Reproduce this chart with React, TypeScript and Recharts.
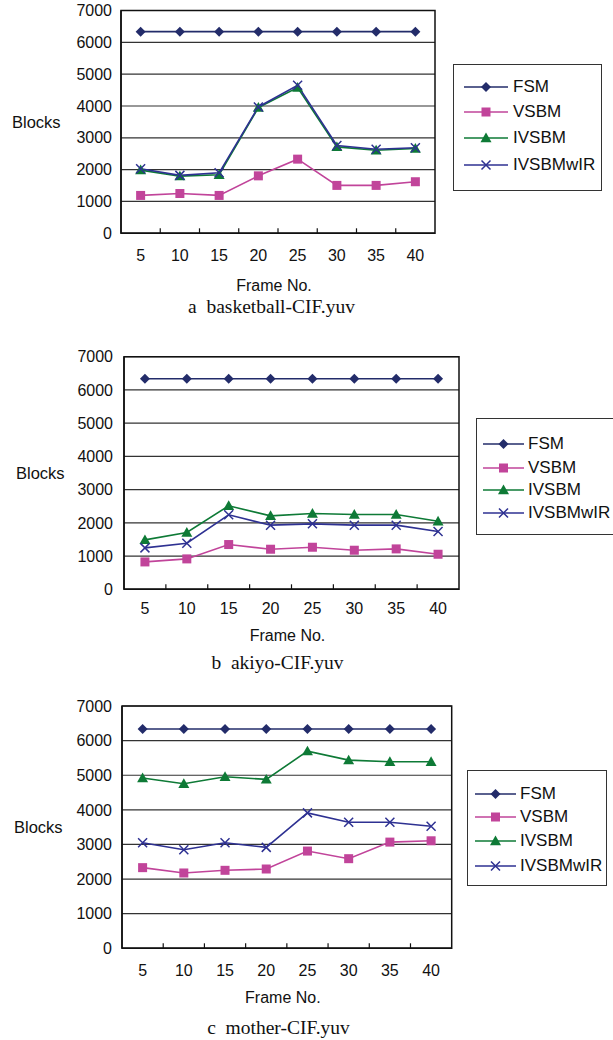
import React from 'react';
import { LineChart, Line, XAxis, YAxis, CartesianGrid, ReferenceArea, Legend } from 'recharts';

const FRAMES = [5, 10, 15, 20, 25, 30, 35, 40];
const Y_TICKS = [0, 1000, 2000, 3000, 4000, 5000, 6000, 7000];
const SERIES_KEYS = ['FSM', 'VSBM', 'IVSBM', 'IVSBMwIR'];
const SERIES_COLORS = ['#232C6A', '#C1449A', '#0E7A36', '#2E3192'];
const SERIES_SHAPES = ['diamond', 'square', 'triangle', 'cross'];

// a  basketball-CIF.yuv
const BASKETBALL_FSM = [6336, 6336, 6336, 6336, 6336, 6336, 6336, 6336];
const BASKETBALL_VSBM = [1190, 1250, 1190, 1805, 2330, 1505, 1505, 1620];
const BASKETBALL_IVSBM = [1985, 1795, 1840, 3950, 4580, 2715, 2610, 2665];
const BASKETBALL_IVSBMWIR = [2030, 1820, 1900, 3970, 4650, 2760, 2640, 2690];

// b  akiyo-CIF.yuv
const AKIYO_FSM = [6336, 6336, 6336, 6336, 6336, 6336, 6336, 6336];
const AKIYO_VSBM = [824, 915, 1347, 1206, 1266, 1176, 1216, 1055];
const AKIYO_IVSBM = [1487, 1709, 2513, 2211, 2281, 2251, 2251, 2050];
const AKIYO_IVSBMWIR = [1246, 1387, 2241, 1930, 1970, 1930, 1930, 1739];

// c  mother-CIF.yuv
const MOTHER_FSM = [6336, 6336, 6336, 6336, 6336, 6336, 6336, 6336];
const MOTHER_VSBM = [2330, 2176, 2253, 2291, 2809, 2589, 3068, 3106];
const MOTHER_IVSBM = [4918, 4755, 4957, 4880, 5695, 5436, 5388, 5388];
const MOTHER_IVSBMWIR = [3049, 2848, 3049, 2915, 3912, 3643, 3643, 3528];

const CAPTIONS = ['a  basketball-CIF.yuv', 'b  akiyo-CIF.yuv', 'c  mother-CIF.yuv'];
const X_LABEL = 'Frame No.';
const Y_LABEL = 'Blocks';

const SANS = "'Liberation Sans', Arial, Helvetica, sans-serif";
const SERIF = "'Liberation Serif', 'Times New Roman', serif";
const INK = '#111';

const buildData = (fsm: number[], vsbm: number[], ivsbm: number[], wir: number[]) =>
  FRAMES.map((f, i) => ({ frame: f, FSM: fsm[i], VSBM: vsbm[i], IVSBM: ivsbm[i], IVSBMwIR: wir[i] }));

const Marker = ({ cx, cy, color, shape }: any) => {
  if (cx == null || cy == null) return null;
  if (shape === 'diamond') {
    const r = 5;
    return <path d={`M${cx},${cy - r} L${cx + r},${cy} L${cx},${cy + r} L${cx - r},${cy} Z`} fill={color} />;
  }
  if (shape === 'square') {
    const r = 4.5;
    return <rect x={cx - r} y={cy - r} width={2 * r} height={2 * r} fill={color} />;
  }
  if (shape === 'triangle') {
    const r = 5.5;
    return <path d={`M${cx},${cy - r} L${cx + r},${cy + 4.2} L${cx - r},${cy + 4.2} Z`} fill={color} />;
  }
  const r = 4.5;
  return (
    <path
      d={`M${cx - r},${cy - r} L${cx + r},${cy + r} M${cx + r},${cy - r} L${cx - r},${cy + r}`}
      stroke={color}
      strokeWidth={1.5}
      fill="none"
    />
  );
};

const LegendBox = ({ payload, spec }: any) => {
  const items = (payload || [])
    .map((p: any) => {
      const idx = SERIES_KEYS.indexOf(p.dataKey);
      return { idx, name: p.value, color: p.color || SERIES_COLORS[idx], shape: SERIES_SHAPES[idx] };
    })
    .sort((a: any, b: any) => a.idx - b.idx);
  return (
    <div
      style={{
        position: 'relative',
        width: spec.w,
        height: spec.h,
        border: '1.5px solid #333',
        boxSizing: 'border-box',
        background: '#fff',
        fontFamily: SANS,
        fontSize: 17,
        color: INK,
      }}
    >
      {items.map((it: any, i: number) => (
        <div key={it.name} style={{ position: 'absolute', left: 0, top: spec.rows[i] - 13, height: 26, width: spec.w }}>
          <svg width={spec.lineX1 + 8} height={26} style={{ position: 'absolute', left: 0, top: 0 }}>
            <line x1={spec.lineX0} x2={spec.lineX1} y1={13} y2={13} stroke={it.color} strokeWidth={1.6} />
            <Marker cx={(spec.lineX0 + spec.lineX1) / 2} cy={13} color={it.color} shape={it.shape} />
          </svg>
          <span style={{ position: 'absolute', left: spec.textX, top: 0, lineHeight: '26px', whiteSpace: 'nowrap' }}>
            {it.name}
          </span>
        </div>
      ))}
    </div>
  );
};

const Panel = ({ cfg }: any) => {
  const { data, topY, H, plot, tickDy, frameDy, blocksX, yLabelRight, legend } = cfg;
  const W = 613;
  const XH = 60;
  const marginTop = plot.top - topY;
  const marginBottom = H - (plot.bottom - topY) - XH;
  const marginRight = W - plot.right;
  const bw = (plot.right - plot.left) / FRAMES.length;
  const plotBottomRel = plot.bottom - topY;
  const midYRel = (plot.top + plot.bottom) / 2 - topY;

  const renderXTick = (props: any) => {
    const { x, y, payload, index } = props;
    return (
      <g>
        {index > 0 && <line x1={x - bw / 2} x2={x - bw / 2} y1={y} y2={y - 5} stroke={INK} strokeWidth={1.2} />}
        <text x={x} y={y + tickDy} textAnchor="middle" dominantBaseline="central" fontSize={16} fontFamily={SANS} fill={INK}>
          {payload.value}
        </text>
      </g>
    );
  };

  return (
    <div style={{ position: 'absolute', left: 0, top: topY, width: W, height: H }}>
      <LineChart
        width={W}
        height={H}
        data={data}
        margin={{ top: marginTop, right: marginRight, bottom: marginBottom, left: 0 }}
      >
        <CartesianGrid vertical={false} stroke="#333" strokeWidth={1.2} />
        <XAxis
          dataKey="frame"
          type="number"
          domain={[2.5, 42.5]}
          ticks={FRAMES}
          interval={0}
          allowDataOverflow
          height={XH}
          tickLine={false}
          tickSize={0}
          tickMargin={0}
          axisLine={{ stroke: INK, strokeWidth: 1.5 }}
          tick={renderXTick}
          label={() => (
            <text
              x={(plot.left + plot.right) / 2 - 4}
              y={plotBottomRel + frameDy}
              textAnchor="middle"
              dominantBaseline="central"
              fontSize={16}
              fontFamily={SANS}
              fill={INK}
            >
              {X_LABEL}
            </text>
          )}
        />
        <YAxis
          type="number"
          domain={[0, 7000]}
          ticks={Y_TICKS}
          interval={0}
          width={plot.left}
          tickLine={false}
          tickSize={0}
          tickMargin={plot.left - yLabelRight}
          axisLine={{ stroke: INK, strokeWidth: 1.5 }}
          tick={{ fontSize: 16, fill: INK, fontFamily: SANS }}
          label={() => (
            <text x={blocksX} y={midYRel} textAnchor="start" dominantBaseline="central" fontSize={16.5} fontFamily={SANS} fill={INK}>
              {Y_LABEL}
            </text>
          )}
        />
        <ReferenceArea x1={2.5} x2={42.5} y1={0} y2={7000} fill="none" stroke={INK} strokeWidth={1.5} ifOverflow="visible" />
        {SERIES_KEYS.map((k, i) => (
          <Line
            key={k}
            dataKey={k}
            name={k}
            stroke={SERIES_COLORS[i]}
            strokeWidth={1.6}
            isAnimationActive={false}
            activeDot={false}
            dot={(p: any) => <Marker key={`${k}-${p.index}`} cx={p.cx} cy={p.cy} color={SERIES_COLORS[i]} shape={SERIES_SHAPES[i]} />}
          />
        ))}
        <Legend
          layout="horizontal"
          verticalAlign="middle"
          align="center"
          itemSorter={null as any}
          wrapperStyle={{ left: legend.x, top: legend.y - topY, width: legend.w, height: legend.h }}
          content={(props: any) => <LegendBox payload={props.payload} spec={legend} />}
        />
      </LineChart>
    </div>
  );
};

const PANELS = [
  {
    data: buildData(BASKETBALL_FSM, BASKETBALL_VSBM, BASKETBALL_IVSBM, BASKETBALL_IVSBMWIR),
    topY: 0,
    H: 340,
    plot: { left: 121, right: 435, top: 10.5, bottom: 233.3 },
    tickDy: 22,
    frameDy: 52,
    blocksX: 12,
    yLabelRight: 112,
    legend: { x: 453, y: 64, w: 149, h: 127, rows: [22, 47, 73, 100], lineX0: 10, lineX1: 54, textX: 59 },
    caption: { cx: 271.5, cy: 307 },
  },
  {
    data: buildData(AKIYO_FSM, AKIYO_VSBM, AKIYO_IVSBM, AKIYO_IVSBMWIR),
    topY: 340,
    H: 350,
    plot: { left: 124, right: 459, top: 356.7, bottom: 589.3 },
    tickDy: 19,
    frameDy: 46,
    blocksX: 16,
    yLabelRight: 113,
    legend: { x: 476, y: 418, w: 142, h: 117, rows: [25, 49, 71, 94], lineX0: 6, lineX1: 47, textX: 51 },
    caption: { cx: 277.5, cy: 663 },
  },
  {
    data: buildData(MOTHER_FSM, MOTHER_VSBM, MOTHER_IVSBM, MOTHER_IVSBMWIR),
    topY: 690,
    H: 350,
    plot: { left: 122, right: 451.7, top: 706, bottom: 948.3 },
    tickDy: 22,
    frameDy: 49,
    blocksX: 14,
    yLabelRight: 112,
    legend: { x: 467, y: 770, w: 140, h: 116, rows: [23, 46, 70, 95], lineX0: 7, lineX1: 48, textX: 52 },
    caption: { cx: 278.5, cy: 1028 },
  },
];

export default function App() {
  return (
    <div style={{ position: 'absolute', left: 0, top: 0, width: 613, height: 1040, overflow: 'hidden', background: '#fff' }}>
      {PANELS.map((cfg, i) => (
        <React.Fragment key={i}>
          <Panel cfg={cfg} />
          <div
            style={{
              position: 'absolute',
              left: cfg.caption.cx - 160,
              width: 320,
              top: cfg.caption.cy - 12,
              height: 24,
              lineHeight: '24px',
              textAlign: 'center',
              fontFamily: SERIF,
              fontSize: 19.5,
              color: INK,
              whiteSpace: 'pre',
            }}
          >
            {CAPTIONS[i]}
          </div>
        </React.Fragment>
      ))}
    </div>
  );
}
